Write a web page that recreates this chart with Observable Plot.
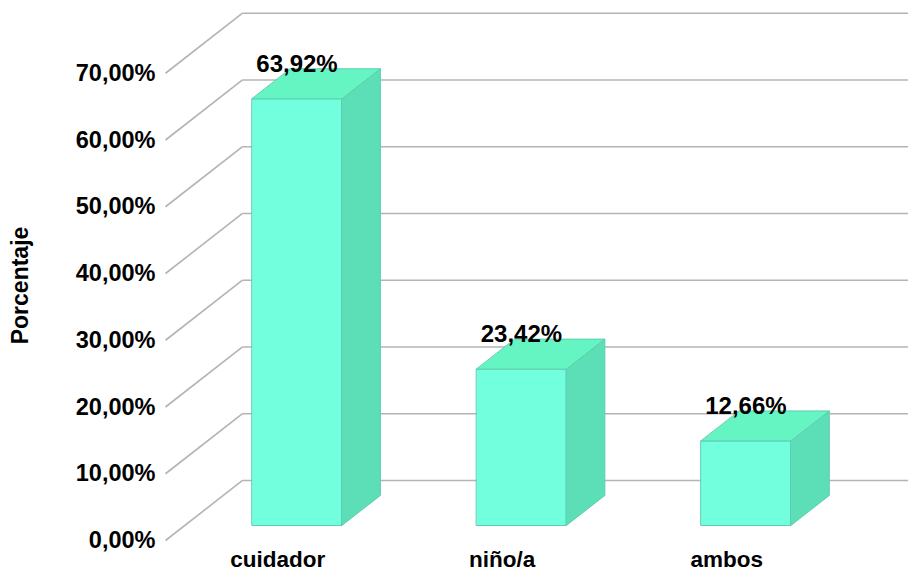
<!DOCTYPE html>
<html>
<head>
<meta charset="utf-8">
<script src="https://cdn.jsdelivr.net/npm/d3@7"></script>
<script src="https://cdn.jsdelivr.net/npm/@observablehq/plot@0.6"></script>
<style>
  html, body { margin: 0; padding: 0; background: #fff; }
  svg { display: block; }
</style>
</head>
<body>
<div id="chart"></div>
<script>
// ---- data ----
const categories = ["cuidador", "niño/a", "ambos"];
const values = [63.92, 23.42, 12.66];
const yTicks = [0, 10, 20, 30, 40, 50, 60, 70];
const axisTitle = "Porcentaje";

// ---- 3D depth (in data units) ----
const DX = 0.343;   // horizontal depth offset
const DY = 9.0;     // vertical depth offset
const HALF = 0.2;   // half bar width
const Z0 = 0.25, Z1 = 0.75; // bar depth range (0 = front, 1 = back wall)
const XMIN = -0.5, XMAX = 2.81;

const fmt = v => v.toFixed(2).replace(".", ",") + "%";
const P = (x, y, z) => ({x: x + z * DX, y: y + z * DY});

const colors = {front: "#71FFDE", top: "#65F5C3", side: "#5CDFB6"};
const faces = [];
categories.forEach((c, i) => {
  const v = values[i];
  const add = (face, pts) => pts.forEach(p => faces.push({...p, key: c + "-" + face, face}));
  add("front", [P(i - HALF, 0, Z0), P(i + HALF, 0, Z0), P(i + HALF, v, Z0), P(i - HALF, v, Z0)]);
  add("side", [P(i + HALF, 0, Z0), P(i + HALF, 0, Z1), P(i + HALF, v, Z1), P(i + HALF, v, Z0)]);
  add("top", [P(i - HALF, v, Z0), P(i + HALF, v, Z0), P(i + HALF, v, Z1), P(i - HALF, v, Z1)]);
});

const labelData = values.map((v, i) => ({x: P(i, v, Z0).x, y: P(i, v, Z0).y, t: fmt(v)}));
const catData = categories.map((c, i) => ({x: i, c}));

const grid = "#b4b4b4";

const chart = Plot.plot({
  width: 908,
  height: 574,
  marginLeft: 165,
  marginRight: 0,
  marginTop: 6,
  marginBottom: 34,
  x: {domain: [XMIN, XMAX], axis: null},
  y: {domain: [0, 80], axis: null},
  style: {fontFamily: "'Liberation Sans', Arial, sans-serif", fontWeight: "bold", color: "#000", background: "#fff"},
  marks: [
    // back wall gridlines
    Plot.link(yTicks, {x1: XMIN + DX, x2: XMAX, y1: d => d + DY, y2: d => d + DY, stroke: grid, strokeWidth: 1.6}),
    // side wall diagonals
    Plot.link(yTicks, {x1: XMIN, y1: d => d, x2: XMIN + DX, y2: d => d + DY, stroke: grid, strokeWidth: 1.6}),
    // bars (3D faces)
    Plot.line(faces, {x: "x", y: "y", z: "key", fill: d => colors[d.face], stroke: "#5fcdaf", strokeWidth: 1, curve: "linear-closed"}),
    // value labels
    Plot.text(labelData, {x: "x", y: "y", text: "t", dy: -27, lineAnchor: "bottom", fontSize: 24, fill: "#000"}),
    // category labels
    Plot.text(catData, {x: "x", y: 0, text: "c", dy: 26, lineAnchor: "bottom", fontSize: 22.5, fill: "#000"}),
    // y axis labels
    Plot.axisY(yTicks, {anchor: "left", tickSize: 0, tickPadding: 10, tickFormat: d => fmt(d), fontSize: 23.5, fontWeight: "bold", label: null}),
    // axis title
    Plot.text([axisTitle], {frameAnchor: "left", text: d => d, rotate: -90, textAnchor: "middle", lineAnchor: "middle", dx: -145, dy: 12, fontSize: 23, fill: "#000"})
  ]
});
document.getElementById("chart").appendChild(chart);
</script>
</body>
</html>
